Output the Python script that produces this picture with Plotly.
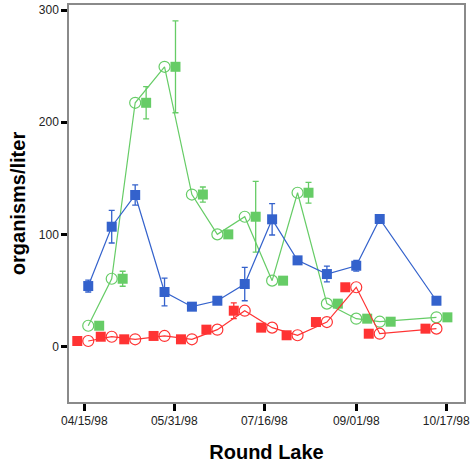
import pandas as pd
import plotly.graph_objects as go

# sampling dates (Round Lake, 1998)
dates = ["1998-04-17", "1998-04-29", "1998-05-11", "1998-05-26", "1998-06-09",
         "1998-06-22", "1998-07-06", "1998-07-20", "1998-08-02", "1998-08-17",
         "1998-09-01", "1998-09-13", "1998-10-12"]

blue_vals = [53.9, 106.8, 135.1, 48.6, 35.5, 40.8, 55.7, 113.4, 76.8, 64.6, 72.0, 113.7, 40.8]
blue_err = [5.3, 14.5, 9.0, 12.3, 0, 0, 14.9, 14.0, 0, 7.0, 4.8, 0, 0]

green_vals = [18.5, 60.4, 217.3, 249.4, 135.5, 100.0, 115.7, 58.7, 137.1, 38.2, 24.8, 22.1, 26.0]
green_err = [0, 6.7, 14.4, 41.0, 6.7, 0, 31.6, 0, 9.2, 0, 0, 0, 0]

red_vals = [4.9, 8.7, 6.4, 9.4, 6.4, 15.0, 31.9, 16.8, 10.0, 21.8, 52.8, 11.4, 15.9]
red_err = [0, 0, 0, 0, 0, 0, 7.0, 0, 0, 0, 0, 0, 0]

tick_dates = ["1998-04-15", "1998-05-31", "1998-07-16", "1998-09-01", "1998-10-17"]

BLUE = "#3462cc"
GREEN = "#66cc66"
RED = "#ff3333"

x = pd.to_datetime(dates)
shift = pd.Timedelta(days=5.6)
x_green = x + shift
x_red = x - shift

fig = go.Figure()

def err(arr, color):
    return dict(type="data", array=arr, visible=True, color=color, thickness=1.3, width=3)

# green: line through means (open circles) + offset squares with error bars
fig.add_trace(go.Scatter(x=x, y=green_vals, mode="lines+markers",
                         line=dict(color=GREEN, width=1.2),
                         marker=dict(symbol="circle-open", size=11, color=GREEN, line=dict(width=1.2))))
fig.add_trace(go.Scatter(x=x_green, y=green_vals, mode="markers",
                         marker=dict(symbol="square", size=10, color=GREEN),
                         error_y=err(green_err, GREEN)))

# red
fig.add_trace(go.Scatter(x=x, y=red_vals, mode="lines+markers",
                         line=dict(color=RED, width=1.2),
                         marker=dict(symbol="circle-open", size=11, color=RED, line=dict(width=1.2))))
fig.add_trace(go.Scatter(x=x_red, y=red_vals, mode="markers",
                         marker=dict(symbol="square", size=10, color=RED),
                         error_y=err(red_err, RED)))

# blue
fig.add_trace(go.Scatter(x=x, y=blue_vals, mode="lines+markers",
                         line=dict(color=BLUE, width=1.2),
                         marker=dict(symbol="square", size=10, color=BLUE),
                         error_y=err(blue_err, BLUE)))

fig.update_layout(
    width=472, height=470,
    margin=dict(l=69, r=8, t=5, b=68),
    paper_bgcolor="white", plot_bgcolor="white",
    showlegend=False,
    font=dict(family="Arial, Liberation Sans, sans-serif", color="#222222", size=12),
)

fig.update_xaxes(
    type="date", automargin=False,
    range=["1998-04-07 04:00", "1998-10-26 02:00"],
    tickvals=pd.to_datetime(tick_dates), tickformat="%m/%d/%y",
    ticks="outside", ticklen=7, tickwidth=3, tickcolor="black",
    showline=True, linecolor="#8a8a8a", linewidth=1.5, mirror=True,
    showgrid=False, zeroline=False,
    tickfont=dict(size=12),
    title=dict(text="<b>Round Lake</b>", font=dict(size=20, color="black"), standoff=18),
)
fig.update_yaxes(
    automargin=False,
    range=[-49.5, 304.5],
    tickvals=[0, 100, 200, 300],
    ticks="outside", ticklen=6, tickwidth=3, tickcolor="black",
    showline=True, linecolor="#8a8a8a", linewidth=1.5, mirror=True,
    showgrid=False, zeroline=False,
    tickfont=dict(size=12),
    title=dict(text="<b>organisms/liter</b>", font=dict(size=20, color="black"), standoff=8),
)

fig.write_html("out.html", config={"displayModeBar": False},
               post_script="document.body.style.margin='0';")
